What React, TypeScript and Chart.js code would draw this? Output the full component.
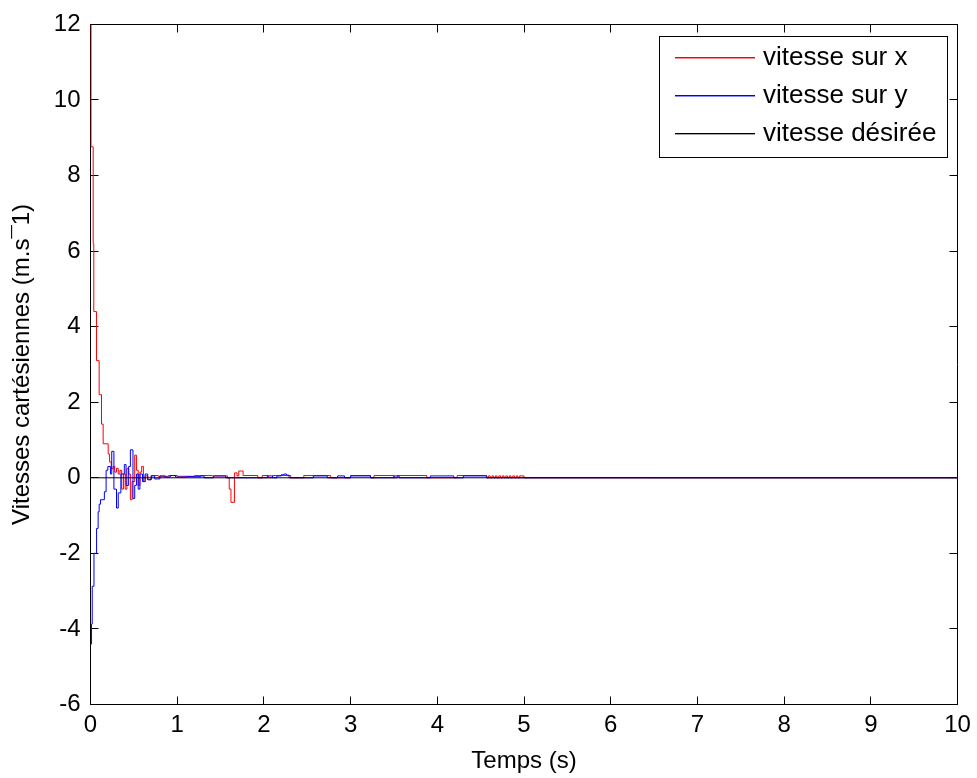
import React, { useEffect, useRef } from "react";
import { Chart, registerables } from "chart.js";

Chart.register(...registerables);

// ---- Data ----
const xTicks = [0, 1, 2, 3, 4, 5, 6, 7, 8, 9, 10];
const yTicks = [-6, -4, -2, 0, 2, 4, 6, 8, 10, 12];

const legendLabels = ["vitesse sur x", "vitesse sur y", "vitesse désirée"];

// vitesse sur x (red)
const tX = [
  0, 0.006, 0.031, 0.038, 0.069, 0.1, 0.127, 0.146, 0.204, 0.22, 0.24, 0.26, 0.28, 0.3, 0.32, 0.34, 0.36,
  0.38, 0.4, 0.42, 0.44, 0.46, 0.48, 0.51, 0.53, 0.55, 0.57, 0.59, 0.61, 0.63, 0.66, 0.7, 0.78, 0.9, 1.0,
  1.2, 1.4, 1.58, 1.6, 1.62, 1.66, 1.69, 1.71, 1.76, 1.93, 1.98, 2.05, 2.1, 2.31, 2.46, 2.77, 3.0, 3.23,
  3.27, 3.5, 3.54, 3.88, 4.23, 4.57, 4.59, 4.61, 4.63, 4.65, 4.67, 4.69, 4.71, 4.73, 4.75, 4.77, 4.79,
  4.81, 4.83, 4.85, 4.87, 4.89, 4.91, 4.93, 4.95, 5.0, 10,
];
const vX = [
  12, 8.76, 6.2, 4.4, 3.1, 2.2, 1.42, 0.9, 0.63, 0.42, 0.24, 0.3, 0.15, 0.25, 0.1, 0.2, -0.3,
  0.1, -0.3, 0.25, 0.1, -0.58, -0.1, 0.6, 0.2, -0.2, 0.15, 0.3, -0.1, 0.05, -0.05, 0.06, 0.04, 0.06, 0.04,
  0.06, 0.05, 0.0, -0.3, -0.65, 0.13, 0.05, 0.18, 0.06, 0.0, 0.06, 0.0, 0.06, 0.0, 0.06, 0.0, 0.06, 0.0,
  0.06, 0.0, 0.06, 0.0, 0.06, 0.0, 0.05, 0.0, 0.05, 0.0, 0.05, 0.0, 0.05, 0.0, 0.05, 0.0, 0.05,
  0.0, 0.05, 0.0, 0.05, 0.0, 0.05, 0.0, 0.05, 0.0, 0.0,
];

// vitesse sur y (blue)
const tY = [
  0, 0.012, 0.02, 0.04, 0.07, 0.088, 0.1, 0.115, 0.16, 0.18, 0.2, 0.23, 0.245, 0.27, 0.3, 0.32, 0.35,
  0.39, 0.41, 0.44, 0.46, 0.49, 0.51, 0.53, 0.55, 0.57, 0.6, 0.63, 0.66, 0.7, 0.74, 0.8, 0.86, 0.92, 0.98,
  1.1, 1.27, 1.31, 1.42, 1.56, 2.0, 2.04, 2.1, 2.15, 2.2, 2.23, 2.26, 2.29, 2.57, 2.73, 2.85, 2.93, 3.0,
  3.23, 3.5, 3.56, 3.92, 4.19, 4.3, 4.57, 5.0, 10,
];
const vY = [
  -4.4, -3.87, -2.87, -2.0, -1.34, -0.9, -0.7, -0.58, -0.37, 0.2, 0.3, 0.1, 0.7, -0.3, -0.8, -0.4, 0.1,
  0.35, -0.2, 0.3, 0.74, -0.55, -0.2, 0.1, -0.3, 0.1, -0.1, 0.1, -0.05, 0.05, -0.03, 0.05, 0.02, 0.06, 0.02,
  0.03, 0.05, 0.0, 0.05, 0.0, 0.0, 0.05, 0.0, 0.05, 0.08, 0.1, 0.07, 0.0, 0.05, 0.0, 0.05, 0.0, 0.05,
  0.0, 0.05, 0.0, 0.05, 0.0, 0.05, 0.0, 0.0, 0.0,
];

// vitesse désirée (black)
const tD = [0, 10];
const vD = [0, 0];

const legendColors = ["#ff0000", "#0000ff", "#000000"];
const legendTints = ["rgba(255,0,0,0.45)", "rgba(0,0,255,0.45)", "rgba(0,0,0,0.35)"];

const FONT = "Arial, 'Liberation Sans', Helvetica, sans-serif";
const FS = 24;
const LEG_FS = 26;

const framePlugin = {
  id: "matlabFrame",
  beforeDatasetsDraw(chart: any) {
    const { ctx, chartArea } = chart;
    const { left, right, top, bottom } = chartArea;
    const xs = chart.scales.x;
    const ys = chart.scales.y;
    const L = Math.floor(left) + 0.5;
    const R = Math.floor(right) + 0.5;
    const T = Math.floor(top) + 0.5;
    const B = Math.floor(bottom) + 0.5;
    ctx.save();
    ctx.strokeStyle = "#000";
    ctx.lineWidth = 1;
    ctx.beginPath();
    ctx.rect(L, T, R - L, B - T);
    ctx.stroke();
    const tl = 8;
    ctx.beginPath();
    xTicks.forEach((t) => {
      const px = Math.floor(xs.getPixelForValue(t)) + 0.5;
      ctx.moveTo(px, B);
      ctx.lineTo(px, B - tl);
      ctx.moveTo(px, T);
      ctx.lineTo(px, T + tl);
    });
    yTicks.forEach((v) => {
      const py = Math.floor(ys.getPixelForValue(v)) + 0.5;
      ctx.moveTo(L, py);
      ctx.lineTo(L + tl, py);
      ctx.moveTo(R, py);
      ctx.lineTo(R - tl, py);
    });
    ctx.stroke();
    ctx.restore();
  },
  afterDraw(chart: any) {
    const ctx = chart.ctx as CanvasRenderingContext2D;
    ctx.save();
    const bx = 659.5, by = 36.5, bw = 288, bh = 121;
    ctx.fillStyle = "#ffffff";
    ctx.fillRect(bx, by, bw, bh);
    ctx.strokeStyle = "#000000";
    ctx.lineWidth = 1;
    ctx.strokeRect(bx, by, bw, bh);
    const rows = [57, 95, 133];
    ctx.font = `${LEG_FS}px ${FONT}`;
    ctx.textBaseline = "middle";
    ctx.textAlign = "left";
    for (let i = 0; i < legendLabels.length; i++) {
      ctx.fillStyle = legendColors[i];
      ctx.fillRect(675, rows[i], 80, 1);
      ctx.fillStyle = legendTints[i];
      ctx.fillRect(675, rows[i] + 1, 80, 1);
      ctx.fillStyle = "#000000";
      ctx.fillText(legendLabels[i], 763, rows[i] + 1);
    }
    ctx.restore();
  },
};

export default function App() {
  const ref = useRef<HTMLCanvasElement | null>(null);
  useEffect(() => {
    if (!ref.current) return;
    const mk = (t: number[], v: number[]) => t.map((x, i) => ({ x, y: v[i] }));
    const chart = new Chart(ref.current, {
      type: "line",
      data: {
        datasets: [
          {
            label: legendLabels[2],
            data: mk(tD, vD),
            borderColor: legendColors[2],
            borderWidth: 1,
            pointRadius: 0,
            order: 0,
          },
          {
            label: legendLabels[1],
            data: mk(tY, vY),
            borderColor: legendColors[1],
            borderWidth: 1,
            pointRadius: 0,
            stepped: true,
            order: 1,
          },
          {
            label: legendLabels[0],
            data: mk(tX, vX),
            borderColor: legendColors[0],
            borderWidth: 1,
            pointRadius: 0,
            stepped: true,
            order: 2,
          },
        ],
      },
      options: {
        animation: false,
        responsive: false,
        devicePixelRatio: 1,
        layout: { padding: { top: 20.5, right: 19.5, left: 0, bottom: 0 } },
        plugins: { legend: { display: false }, tooltip: { enabled: false } },
        scales: {
          x: {
            type: "linear",
            min: 0,
            max: 10,
            afterBuildTicks: (s: any) => {
              s.ticks = xTicks.map((v) => ({ value: v }));
            },
            afterFit: (s: any) => {
              s.height = 73.5;
            },
            grid: { display: false, drawTicks: false },
            border: { display: false },
            ticks: { color: "#000", font: { family: FONT, size: FS }, padding: 6, maxRotation: 0, autoSkip: false },
            title: {
              display: true,
              text: "Temps (s)",
              color: "#000",
              font: { family: FONT, size: FS },
              padding: { top: 0, bottom: 2 },
            },
          },
          y: {
            type: "linear",
            min: -6,
            max: 12,
            afterBuildTicks: (s: any) => {
              s.ticks = yTicks.map((v) => ({ value: v }));
            },
            afterFit: (s: any) => {
              s.width = 90.5;
            },
            grid: { display: false, drawTicks: false },
            border: { display: false },
            ticks: { color: "#000", font: { family: FONT, size: FS }, padding: 10, autoSkip: false },
            title: {
              display: true,
              text: "Vitesses cartésiennes (m.s¯1)",
              color: "#000",
              font: { family: FONT, size: FS },
              padding: { top: 8, bottom: 0 },
            },
          },
        },
      },
      plugins: [framePlugin],
    } as any);
    return () => chart.destroy();
  }, []);
  return (
    <div style={{ position: "absolute", left: 0, top: 0, width: 977, height: 778, background: "#fff" }}>
      <canvas ref={ref} width={977} height={778} style={{ display: "block" }} />
    </div>
  );
}
